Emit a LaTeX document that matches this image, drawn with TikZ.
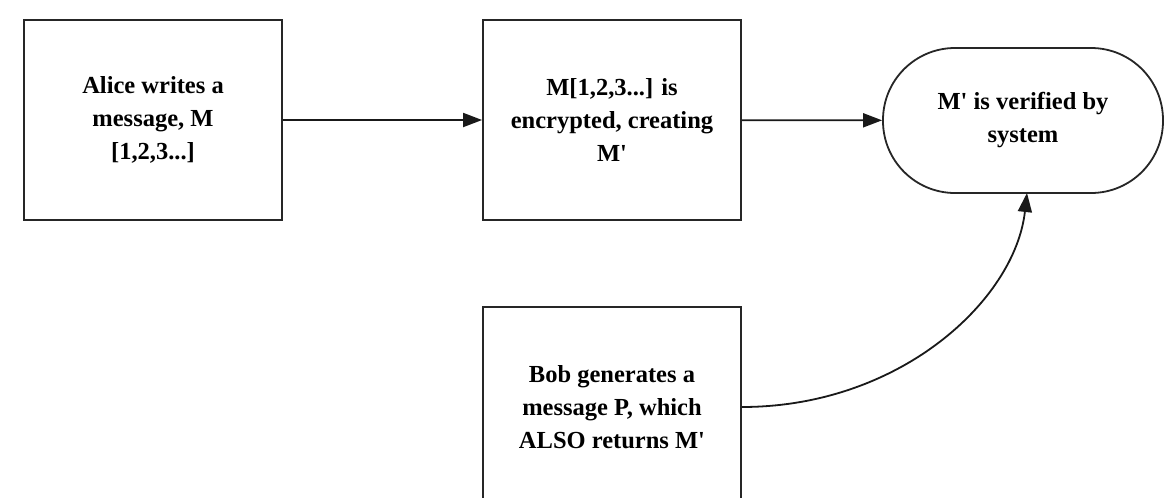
\documentclass[tikz,border=0pt]{standalone}
\usepackage{fontspec}
\setmainfont{Liberation Serif}[Ligatures=TeXOff]
\usetikzlibrary{arrows.meta}
\begin{document}
\begin{tikzpicture}[x=1pt,y=-1pt,
  box/.style={draw=black!85, line width=1.8pt, minimum width=258pt, minimum height=200pt,
    align=center, inner sep=0pt, font=\fontsize{24.5}{33}\selectfont\bfseries},
  term/.style={box, minimum width=280pt, minimum height=145pt, rounded corners=72pt},
  conn/.style={line width=1.8pt, draw=black!90, -{Triangle[length=19pt,width=14pt]}}]
\useasboundingbox (0,0) rectangle (1165,498);
\fill[white] (0,0) rectangle (1165,498);
\node[box] (a) at (153,120) {Alice writes a\\message, M\\{}[1,2,3...]};
\node[box] (b) at (612,120) {M[1,2,3...] is\\encrypted, creating\\M'};
\node[term] (c) at (1023,120.5) {M' is verified by\\system};
\node[box] (d) at (612,407) {Bob generates a\\message P, which\\ALSO returns M'};
\draw[conn] (a) -- (b);
\draw[conn] (b) -- (c);
\coordinate (cs) at (1027,193);
\draw[conn] (d.east) .. controls (900,407) and (1015,300) .. (cs);
\end{tikzpicture}
\end{document}
